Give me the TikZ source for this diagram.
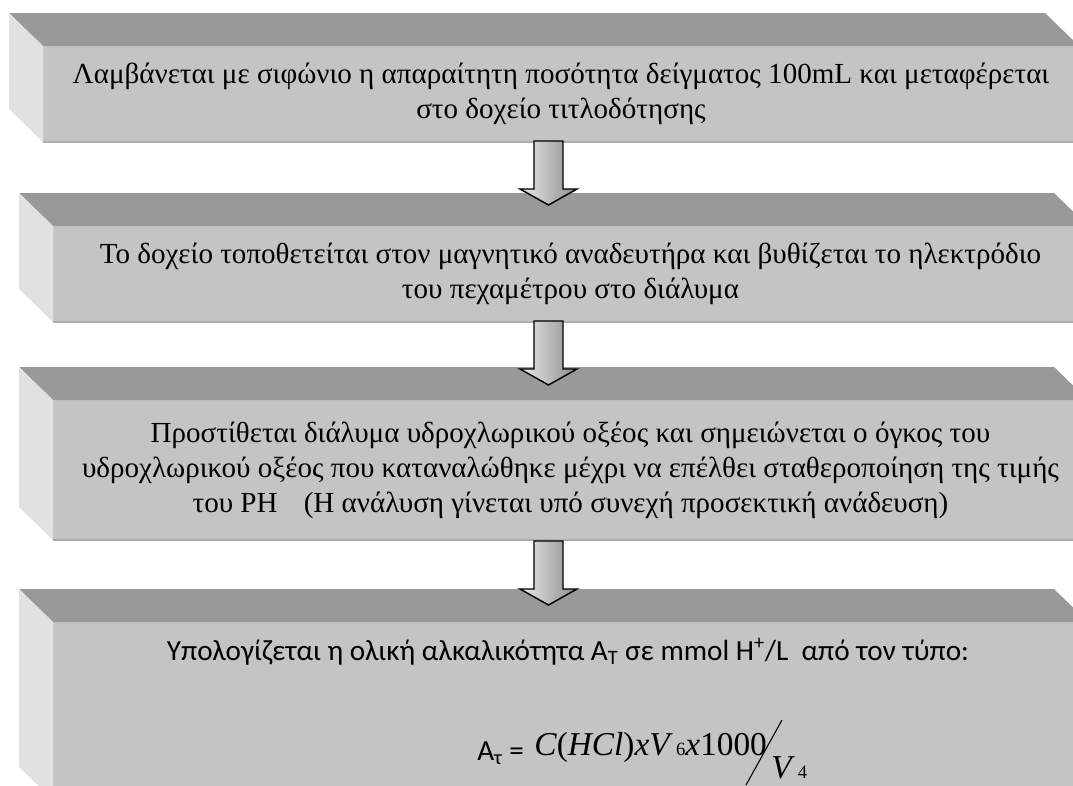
\documentclass[tikz,border=0pt]{standalone}
\usepackage{fontspec}
\setmainfont{Liberation Serif}
\newfontfamily\calibri{Carlito}
\usetikzlibrary{positioning,calc}

\definecolor{facefront}{HTML}{C4C4C4}
\definecolor{facetop}{HTML}{999999}
\definecolor{faceside}{HTML}{E1E1E1}
\definecolor{faceedge}{HTML}{ADADAD}

% top and left faces of a bevelled box
\newcommand{\bevelfaces}[1]{%
  \fill[facetop] (#1.north west) -- ++(-34,-33) -- ($(#1.north east)+(-34,-33)$) -- (#1.north east) -- cycle;
  \fill[faceside] (#1.north west) -- ++(-34,-33) -- ($(#1.south west)+(-34,-33)$) -- (#1.south west) -- cycle;
  \draw[faceedge, line width=1.2pt] (#1.south west) -- (#1.south east);
}
% hollow block arrow hanging from a named coordinate
\newcommand{\blockarrow}[1]{%
  \draw[flowarrow] (#1) ++(-14.5,0) -- ++(29,0) -- ++(0,48) -- ++(14,0)
    -- ++(-28.5,16) -- ++(-28.5,-16) -- ++(14,0) -- cycle;
}

\begin{document}
\begin{tikzpicture}[
    x=0.75pt, y=-0.75pt,
    front/.style={fill=facefront, inner sep=0pt, outer sep=0pt, align=center,
                  font=\fontsize{21.8}{26.25}\selectfont},
    sanstext/.style={font=\calibri\fontsize{21.9}{24}\selectfont, inner sep=0pt},
    mathtext/.style={font=\fontsize{25}{25}\selectfont, inner sep=0pt},
    flowarrow/.style={draw=black, line width=1.1pt, line join=miter,
                  left color=black!8, right color=black!45},
]
\useasboundingbox (0,0) rectangle (1073,785);
\clip (0,0) rectangle (1073,785);

\node[front, minimum width=777pt, minimum height=72pt] (f1) at (561,94)
  {Λαμβάνεται με σιφώνιο η απαραίτητη ποσότητα δείγματος 100mL και μεταφέρεται\\
   στο δοχείο τιτλοδότησης};
\bevelfaces{f1}

\node[front, minimum width=776.25pt, minimum height=72pt] (f2) at (570.5,274)
  {Το δοχείο τοποθετείται στον μαγνητικό αναδευτήρα και βυθίζεται το ηλεκτρόδιο\\
   του πεχαμέτρου στο διάλυμα};
\bevelfaces{f2}

\node[front, minimum width=776.25pt, minimum height=105pt] (f3) at (570.5,470)
  {Προστίθεται διάλυμα υδροχλωρικού οξέος και σημειώνεται ο όγκος του\\
   υδροχλωρικού οξέος που καταναλώθηκε μέχρι να επέλθει σταθεροποίηση της τιμής\\
   του PH\hspace{0.9em}(Η ανάλυση γίνεται υπό συνεχή προσεκτική ανάδευση)};
\bevelfaces{f3}

\node[front, minimum width=776.25pt, minimum height=133.5pt] (f4) at (570.5,711) {};
\bevelfaces{f4}

\node[sanstext, anchor=base] (t4) at (568,660)
  {Υπολογίζεται η ολική αλκαλικότητα A\textsubscript{T} σε mmol H\textsuperscript{+}/L\ \ από τον τύπο:};
\node[sanstext, anchor=base west] (lhs) at (477,760) {A\textsubscript{τ} =};
\node[mathtext, anchor=base west] (num) at (534,755)
  {\textit{C}(\textit{HCl})\textit{xV}{\fontsize{14}{14}\selectfont\,6}\textit{x}1000};
\node[mathtext, anchor=base west] (den) at (771,778)
  {\textit{V}{\fontsize{14}{14}\selectfont\,4}};
\coordinate (slashlo) at (746,785);
\coordinate (slashhi) at (782,720);
\draw[line width=0.8pt] (slashlo) -- (slashhi);

\coordinate (a1) at (548.5,141);
\coordinate (a2) at (548.5,321);
\coordinate (a3) at (548.5,541);
\blockarrow{a1}
\blockarrow{a2}
\blockarrow{a3}
\end{tikzpicture}
\end{document}
